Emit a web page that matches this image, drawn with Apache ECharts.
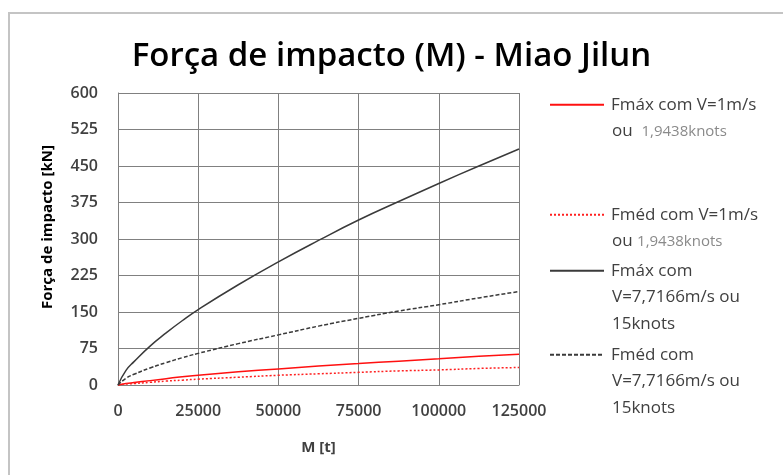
<!DOCTYPE html>
<html>
<head>
<meta charset="utf-8">
<script src="https://cdn.jsdelivr.net/npm/echarts@6/dist/echarts.min.js"></script>
<style>
  html, body { margin: 0; padding: 0; background: #fff; }
  #chart { width: 783px; height: 475px; }
</style>
</head>
<body>
<div id="chart"></div>
<script>
// massa do navio [t]
const massa = [0, 2500, 5000, 10000, 15000, 20000, 25000, 37500, 50000, 62500, 75000, 87500, 100000, 112500, 125000];
// forças [kN]
const fmax1 = [0, 3, 5, 9, 13, 17, 20, 27, 33, 39, 44, 49, 54, 59, 63];
const fmed1 = [0, 2, 3, 5.5, 8, 10, 12, 16, 20, 23, 26, 29, 31, 34, 36];
const fmax15 = [0, 30, 48, 80, 107, 132, 155, 206, 253, 297, 339, 377, 414, 450, 485];
const fmed15 = [0, 14, 22, 35, 46, 56, 65, 85, 103, 121, 137, 152, 165, 179, 192];

const nomes = ['Fmáx com V=1m/s', 'Fméd com V=1m/s', 'Fmáx com', 'Fméd com'];
const linhasExtra = [
  ['ou  1,9438knots'],
  ['ou 1,9438knots'],
  ['V=7,7166m/s ou', '15knots'],
  ['V=7,7166m/s ou', '15knots']
];

const font = 'Open Sans';
const pares = arr => massa.map((m, i) => [m, arr[i]]);

function serie(nome, dados, cor, tipo) {
  return {
    name: nome, type: 'line', data: pares(dados), symbol: 'none', smooth: true,
    lineStyle: { color: cor, width: 1.5, type: tipo }, itemStyle: { color: cor }
  };
}

const legendTops = [91, 201, 257, 341];
const legendas = nomes.map((n, i) => ({
  data: [n], orient: 'vertical', left: 544, top: legendTops[i],
  itemWidth: 54, itemHeight: 22, itemGap: 0,
  itemStyle: { opacity: 0 },
  textStyle: { fontFamily: font, fontSize: 17, color: '#404040', padding: [0, 0, 0, 2] }
}));

const extras = [];
linhasExtra.forEach((ls, i) => {
  ls.forEach((t, j) => {
    const partes = t.split(/(1,9438knots)/);
    extras.push({
      type: 'text', left: 612, top: legendTops[i] + 32 + 27 * j,
      style: partes.length > 1 ? {
        text: '{a|' + partes[0] + '}{b|1,9438knots}',
        rich: {
          a: { fontFamily: font, fontSize: 17, fill: '#404040' },
          b: { fontFamily: font, fontSize: 15, fill: '#8a8a8a' }
        }
      } : {
        text: t, fill: '#404040', font: '17px "' + font + '"'
      }
    });
  });
});

const chart = echarts.init(document.getElementById('chart'));
chart.setOption({
  backgroundColor: '#fff',
  animation: false,
  title: {
    text: 'Força de impacto (M) - Miao Jilun', left: 'center', top: 35,
    textStyle: { fontFamily: font, fontSize: 33, fontWeight: 600, color: '#000' }
  },
  graphic: [
    { type: 'rect', shape: { x: 9, y: 13, width: 790, height: 480 },
      style: { fill: 'none', stroke: '#c4c4c4', lineWidth: 2 }, silent: true }
  ].concat(extras),
  legend: legendas,
  grid: { left: 118, top: 93, right: 264, bottom: 90 },
  xAxis: {
    type: 'value', min: 0, max: 125000, interval: 25000,
    name: 'M [t]', nameLocation: 'middle', nameGap: 55,
    nameTextStyle: { fontFamily: font, fontSize: 15, fontWeight: 'bold', color: '#404040' },
    axisLine: { show: true, lineStyle: { color: '#808080' } },
    axisTick: { show: false },
    axisLabel: { fontFamily: font, fontSize: 16, fontWeight: 600, color: '#404040', margin: 18, formatter: v => String(v) },
    splitLine: { show: true, lineStyle: { color: '#808080', width: 1 } }
  },
  yAxis: {
    type: 'value', min: 0, max: 600, interval: 75,
    name: 'Força de impacto [kN]', nameLocation: 'middle', nameGap: 63,
    nameTextStyle: { fontFamily: font, fontSize: 15, fontWeight: 'bold', color: '#000', padding: [0, 0, 0, 24] },
    axisLine: { show: true, lineStyle: { color: '#808080' } },
    axisTick: { show: false },
    axisLabel: { fontFamily: font, fontSize: 16, fontWeight: 600, color: '#404040', margin: 20 },
    splitLine: { show: true, lineStyle: { color: '#808080', width: 1 } }
  },
  series: [
    serie(nomes[0], fmax1, '#ff1010', 'solid'),
    serie(nomes[1], fmed1, '#ff2020', [2, 2]),
    serie(nomes[2], fmax15, '#3a3a3a', 'solid'),
    serie(nomes[3], fmed15, '#3a3a3a', [4, 2])
  ]
});
</script>
</body>
</html>
